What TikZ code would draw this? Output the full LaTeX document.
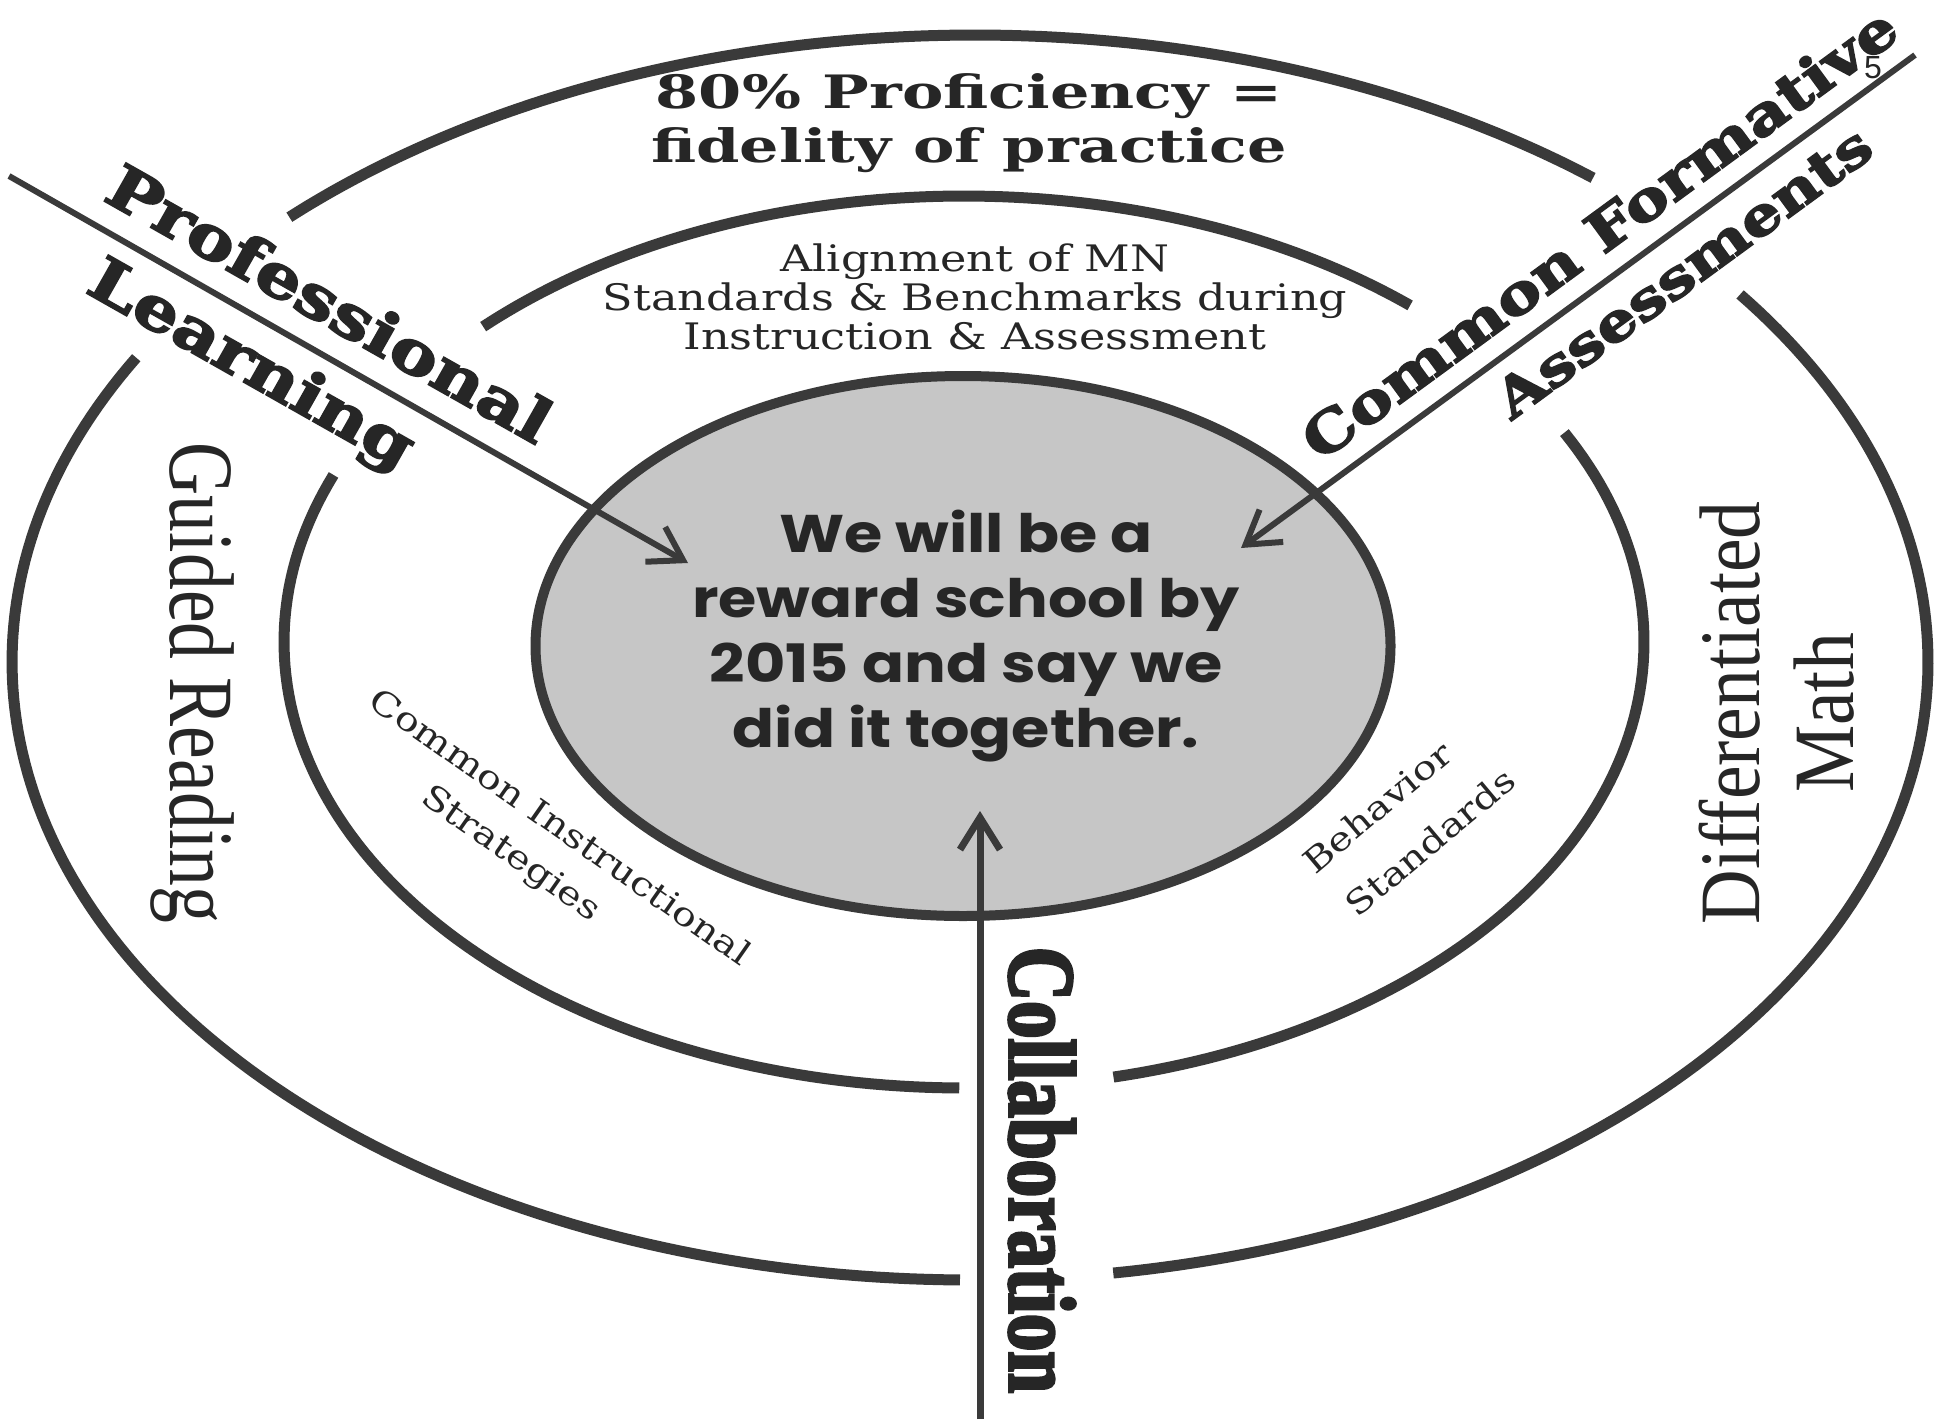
\documentclass[tikz,border=0pt]{standalone}
\usepackage{fontspec}
\usetikzlibrary{arrows.meta,shapes.geometric}
\newfontfamily\titlefont{DejaVu Serif}[FakeStretch=1.35]
\newfontfamily\centfont{DejaVu Serif}[FakeStretch=1.22]
\newfontfamily\fatfont{DejaVu Serif}[FakeStretch=1.2,BoldFeatures={FakeBold=3}]
\newfontfamily\condfont{Liberation Serif}[FakeStretch=0.8]
\newfontfamily\conddfont{Liberation Serif}[FakeStretch=0.88]
\newfontfamily\collfont{Liberation Serif}[FakeStretch=0.79,BoldFeatures={FakeBold=3}]
\newfontfamily\handfont{Poppins}[FakeStretch=1.17]
\newfontfamily\pagefont{Liberation Sans}
\definecolor{ink}{HTML}{3A3A3A}
\definecolor{txt}{HTML}{262626}
\definecolor{fillc}{HTML}{C6C6C6}
\begin{document}
\begin{tikzpicture}[x=1pt,y=-1pt,
  ring/.style={draw=ink,line width=11pt},
  arrowline/.style={draw=ink,line width=6pt,-{Straight Barb[length=32pt,width=40pt]}},
  lbl/.style={text=txt,inner sep=0pt,align=center}]
\fill[white] (0,0) rectangle (1934,1419);
\useasboundingbox (0,0) rectangle (1934,1419);

% central ellipse
\node[draw=ink,line width=10pt,fill=fillc,ellipse,minimum width=855pt,minimum height=540pt,inner sep=0pt] (goal) at (963,646) {};

% inner ring (ellipse centre (964,642), rx 680, ry 446)
\draw[ring] plot[domain=-135:-49,samples=90] ({964+680*cos(\x)},{642+446*sin(\x)});
\draw[ring] plot[domain=90.4:202,samples=90] ({964+680*cos(\x)},{642+446*sin(\x)});
\draw[ring] plot[domain=-28:77.3,samples=90] ({964+680*cos(\x)},{642+446*sin(\x)});

% outer ring (ellipse centre (970,662), rx 958, ry 618); top arc slightly flatter
\draw[ring] plot[domain=-134.4:-50.9,samples=120] ({975+980*cos(\x)},{673+638*sin(\x)});
\draw[ring] plot[domain=90.6:209.5,samples=120] ({970+958*cos(\x)},{662+618*sin(\x)});
\draw[ring] plot[domain=-36.5:81.4,samples=120] ({970+958*cos(\x)},{662+618*sin(\x)});

% texts
\node[lbl,font=\titlefont\bfseries\fontsize{46}{54}\selectfont] (title) at (969,123) {80\% Proficiency =\\fidelity of practice};
\node[lbl,font=\centfont\fontsize{36.5}{39}\selectfont] (align) at (975,297) {Alignment of MN\\Standards \& Benchmarks during\\Instruction \& Assessment};
\node[lbl,font=\handfont\bfseries\fontsize{53}{65}\selectfont] (goaltext) at (966,636) {We will be a\\reward school by\\2015 and say we\\did it together.};

\node[lbl,rotate=-90,font=\condfont\fontsize{92}{92}\selectfont] (guided) at (192,683) {Guided Reading};
\node[lbl,rotate=90,font=\conddfont\fontsize{86}{94}\selectfont] (diff) at (1777,713) {Differentiated\\Math};
\node[lbl,rotate=-90,font=\collfont\bfseries\fontsize{95}{95}\selectfont] (collab) at (1042,1170) {Collaboration};

\node[lbl,rotate=-29.5,font=\fatfont\bfseries\fontsize{60}{60}\selectfont] (prof) at (330,303) {Professional};
\node[lbl,rotate=-29.5,font=\fatfont\bfseries\fontsize{60}{60}\selectfont] (learn) at (250,367) {Learning};
\node[lbl,rotate=36.2,font=\fatfont\bfseries\fontsize{55}{55}\selectfont] (cf) at (1599,233) {Common Formative};
\node[lbl,rotate=36.2,font=\fatfont\bfseries\fontsize{53}{53}\selectfont] (assess) at (1683,272) {Assessments};

\node[lbl,rotate=-35,font=\centfont\fontsize{33}{33}\selectfont] (cis) at (561,826) {Common Instructional};
\node[lbl,rotate=-35,font=\centfont\fontsize{33}{33}\selectfont] (strat) at (510,855) {Strategies};
\node[lbl,rotate=40,font=\centfont\fontsize{33}{33}\selectfont] (behav) at (1377,807) {Behavior};
\node[lbl,rotate=40,font=\centfont\fontsize{33}{33}\selectfont] (stand) at (1430,842) {Standards};

\node[lbl,font=\pagefont\fontsize{32}{32}\selectfont] (page) at (1873,68) {5};

% arrows
\coordinate (plS) at (9,176);
\coordinate (plT) at (688,563);
\coordinate (cfS) at (1915,55);
\coordinate (cfT) at (1241,548);
\coordinate (coS) at (980,1419);
\coordinate (coT) at (980,811);
\draw[arrowline] (plS) -- (plT);
\draw[arrowline] (cfS) -- (cfT);
\draw[arrowline,line width=7pt] (coS) -- (coT);
\end{tikzpicture}
\end{document}
